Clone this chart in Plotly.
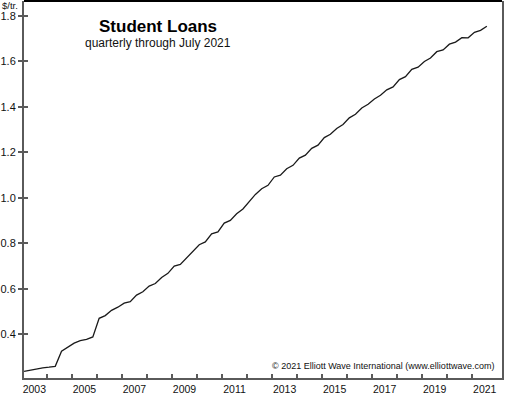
import plotly.graph_objects as go

# Quarterly observations (mid-quarter dates) and student loans outstanding, $ trillions
dates = [f"{y}-{m:02d}-01" for y in range(2003, 2022) for m in (2, 5, 8, 11)][:75]
values = [
    0.237, 0.243, 0.248, 0.252,   # 2003
    0.255, 0.259, 0.325, 0.345,   # 2004
    0.361, 0.372, 0.377, 0.388,   # 2005
    0.470, 0.482, 0.505, 0.519,   # 2006
    0.537, 0.543, 0.572, 0.587,   # 2007
    0.612, 0.623, 0.650, 0.668,   # 2008
    0.700, 0.707, 0.737, 0.766,   # 2009
    0.794, 0.806, 0.842, 0.850,   # 2010
    0.889, 0.901, 0.930, 0.951,   # 2011
    0.985, 1.015, 1.040, 1.055,   # 2012
    1.092, 1.100, 1.128, 1.143,   # 2013
    1.175, 1.188, 1.218, 1.232,   # 2014
    1.265, 1.280, 1.305, 1.323,   # 2015
    1.352, 1.368, 1.395, 1.412,   # 2016
    1.435, 1.451, 1.475, 1.488,   # 2017
    1.520, 1.533, 1.565, 1.575,   # 2018
    1.600, 1.615, 1.643, 1.651,   # 2019
    1.676, 1.685, 1.705, 1.704,   # 2020
    1.728, 1.737, 1.755,          # 2021
]

y_ticks = [0.4, 0.6, 0.8, 1.0, 1.2, 1.4, 1.6, 1.8]
label_years = list(range(2003, 2022, 2))
label_dates = [f"{y}-07-01" for y in label_years]
boundary_dates = [f"{y}-01-01" for y in range(2004, 2022)]

x_range = ["2003-01-31", "2022-03-10"]
y_range = [0.2075, 1.866]

FONT = "Arial, Liberation Sans, sans-serif"
AXIS_COLOR = "#5a5a5a"
TEXT_COLOR = "#111111"

fig = go.Figure()
fig.add_trace(go.Scatter(
    x=dates, y=values, mode="lines",
    line=dict(color="#1a1a1a", width=1.3),
    hoverinfo="skip", showlegend=False,
))

fig.update_layout(
    width=508, height=396,
    margin=dict(l=21, r=6, t=1, b=16),
    paper_bgcolor="white", plot_bgcolor="white",
    font=dict(family=FONT, color=TEXT_COLOR),
    showlegend=False,
    xaxis=dict(
        type="date", range=x_range, showgrid=False, zeroline=False,
        showline=True, linecolor=AXIS_COLOR, linewidth=2,
        tickmode="array", tickvals=label_dates, ticktext=[str(y) for y in label_years],
        ticks="", tickfont=dict(size=10.5, color=TEXT_COLOR, family=FONT),
        minor=dict(tickmode="array", tickvals=boundary_dates, ticks="inside",
                   ticklen=4, tickwidth=1.5, tickcolor=AXIS_COLOR, showgrid=False),
    ),
    xaxis2=dict(
        type="date", range=x_range, overlaying="x", anchor="y", side="bottom",
        showgrid=False, zeroline=False, showline=False, showticklabels=False,
        tickmode="array", tickvals=boundary_dates, ticks="outside",
        ticklen=4, tickwidth=1.5, tickcolor=AXIS_COLOR,
    ),
    yaxis=dict(
        range=y_range, showgrid=False, zeroline=False,
        showline=True, linecolor=AXIS_COLOR, linewidth=2, mirror=True,
        tickmode="array", tickvals=y_ticks, tickformat=".1f",
        ticks="outside", ticklen=4, tickwidth=1.5, tickcolor=AXIS_COLOR,
        tickfont=dict(size=11, color=TEXT_COLOR, family=FONT),
        minor=dict(tickmode="array", tickvals=y_ticks, ticks="inside",
                   ticklen=4, tickwidth=1.5, tickcolor=AXIS_COLOR, showgrid=False),
    ),
    shapes=[dict(type="line", xref="paper", yref="paper", x0=0, x1=1, y0=1, y1=1,
                 line=dict(color="black", width=2))],
    annotations=[
        dict(text="<b>Student Loans</b>", xref="paper", yref="paper",
             x=0.2807, y=0.9314, xanchor="center", yanchor="middle", showarrow=False,
             font=dict(size=17, color="black", family=FONT)),
        dict(text="quarterly through July 2021", xref="paper", yref="paper",
             x=0.2807, y=0.889, xanchor="center", yanchor="middle", showarrow=False,
             font=dict(size=12, color=TEXT_COLOR, family=FONT)),
        dict(text="© 2021 Elliott Wave International (www.elliottwave.com)",
             xref="paper", yref="paper", x=0.9875, y=0.0317,
             xanchor="right", yanchor="middle", showarrow=False,
             font=dict(size=9, color=TEXT_COLOR, family=FONT)),
        dict(text="$/tr.", xref="paper", yref="paper", x=0, y=0.987, xshift=-4,
             xanchor="right", yanchor="middle", showarrow=False,
             font=dict(size=9.5, color=TEXT_COLOR, family=FONT)),
    ],
)

fig.write_html("out.html")
